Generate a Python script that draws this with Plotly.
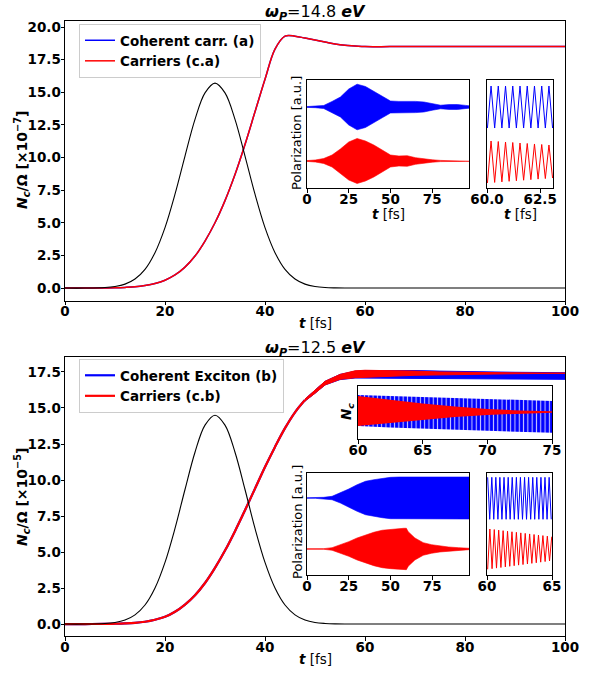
import plotly.graph_objects as go

# ---------------- Panel (a): omega_P = 14.8 eV ----------------
t_a = [0, 4, 8, 10, 12, 14, 16, 18, 20, 22, 24, 26, 28, 30, 32, 34, 36, 38, 40,
       42, 44, 46, 48, 50, 52, 54, 56, 58, 60, 65, 70, 80, 90, 100]
carriers_a = [0, 0, 0.01, 0.02, 0.05, 0.1, 0.2, 0.35, 0.6, 1.0, 1.6, 2.45, 3.6, 5.0,
              6.7, 8.7, 11.0, 13.5, 16.0, 18.3, 19.3, 19.3, 19.15, 19.0, 18.85,
              18.7, 18.6, 18.55, 18.5, 18.5, 18.5, 18.5, 18.5, 18.5]
coherent_a = carriers_a
pulse_a = [0, 0, 0.04, 0.12, 0.3, 0.69, 1.43, 2.71, 4.63, 7.19, 10.11, 12.92, 14.95,
           15.7, 14.95, 12.92, 10.11, 7.19, 4.63, 2.71, 1.43, 0.69, 0.3, 0.12, 0.04,
           0.01, 0, 0, 0, 0, 0, 0, 0, 0]

# inset: polarization envelopes (a.u.)
pol_t_a = [0, 5, 10, 15, 20, 25, 30, 35, 40, 45, 50, 55, 60, 65, 70, 75, 80, 85, 90, 95, 97]
pol_blue_amp_a = [0.009, 0.015, 0.033, 0.12, 0.217, 0.391, 0.496, 0.446, 0.337, 0.235, 0.13,
                  0.122, 0.126, 0.122, 0.109, 0.07, 0.039, 0.052, 0.054, 0.035, 0.026]
pol_red_amp_a = [0.009, 0.022, 0.054, 0.13, 0.261, 0.413, 0.489, 0.435, 0.348, 0.239, 0.13,
                 0.109, 0.115, 0.072, 0.043, 0.026, 0.013, 0.009, 0.009, 0.007, 0.007]
pol_blue_off_a = 0.587
pol_red_off_a = -0.587

# inset: zoom on oscillations 60-63 fs
osc_blue_t_a = [60.02, 60.19, 60.36, 60.53, 60.70, 60.87, 61.04, 61.21, 61.38, 61.55, 61.72,
                61.89, 62.06, 62.23, 62.40, 62.57, 62.74, 62.91, 63.08]
osc_blue_v_a = [0.13, 1.043, 0.13, 1.043, 0.13, 1.043, 0.13, 1.043, 0.13, 1.043, 0.13,
                1.043, 0.13, 1.043, 0.13, 1.043, 0.13, 1.043, 0.13]
osc_red_t_a = osc_blue_t_a
osc_red_v_a = [-1.065, -0.152, -1.053, -0.163, -1.041, -0.174, -1.029, -0.185, -1.017, -0.196,
               -1.005, -0.206, -0.993, -0.217, -0.981, -0.228, -0.969, -0.239, -0.957]

# ---------------- Panel (b): omega_P = 12.5 eV ----------------
t_b = [0, 4, 8, 10, 12, 14, 16, 18, 20, 22, 24, 26, 28, 30, 32, 34, 36, 38, 40,
       42, 44, 46, 48]
carriers_b = [0, 0, 0.01, 0.02, 0.04, 0.08, 0.16, 0.3, 0.5, 0.85, 1.35, 2.0, 2.85, 3.9,
              5.1, 6.45, 7.9, 9.4, 10.9, 12.3, 13.6, 14.7, 15.55]
pulse_t_b = [0, 4, 8, 10, 12, 14, 16, 18, 20, 22, 24, 26, 28, 30, 32, 34, 36, 38, 40,
             42, 44, 46, 48, 50, 52, 54, 56, 60, 70, 80, 90, 100]
pulse_b = [0, 0, 0.04, 0.11, 0.28, 0.64, 1.32, 2.5, 4.28, 6.64, 9.34, 11.93, 13.81, 14.5,
           13.81, 11.93, 9.34, 6.64, 4.28, 2.5, 1.32, 0.64, 0.28, 0.11, 0.04, 0.01, 0,
           0, 0, 0, 0, 0]
band_t_b = [48, 50, 52, 55, 58, 60, 65, 70, 75, 80, 90, 100]
coh_hi_b = [15.62, 16.25, 16.85, 17.33, 17.55, 17.6, 17.62, 17.6, 17.56, 17.52, 17.48, 17.45]
coh_lo_b = [15.48, 16.02, 16.6, 16.97, 17.08, 17.1, 17.1, 17.08, 17.05, 17.03, 17.01, 16.99]
car_hi_b = [15.62, 16.25, 16.85, 17.33, 17.58, 17.62, 17.6, 17.56, 17.5, 17.47, 17.44, 17.42]
car_lo_b = [15.48, 16.02, 16.6, 16.99, 17.1, 17.12, 17.2, 17.27, 17.32, 17.35, 17.38, 17.41]

# inset: N_c zoom 60-75 fs
nc_t_b = [60, 62.5, 65, 67.5, 70, 72.5, 75]
nc_coh_hi_b = [17.599, 17.584, 17.568, 17.553, 17.537, 17.521, 17.506]
nc_coh_lo_b = [17.115, 17.092, 17.068, 17.053, 17.037, 17.021, 17.006]
nc_car_hi_b = [17.584, 17.521, 17.467, 17.42, 17.381, 17.357, 17.345]
nc_car_lo_b = [17.115, 17.162, 17.209, 17.256, 17.287, 17.310, 17.323]

# inset: polarization envelopes (a.u.)
pol_blue_t_b = [0, 5, 10, 15, 20, 25, 30, 35, 40, 45, 50, 55, 60, 97]
pol_blue_amp_b = [0.007, 0.007, 0.015, 0.037, 0.109, 0.196, 0.289, 0.363, 0.398, 0.428,
                  0.45, 0.457, 0.457, 0.457]
pol_red_t_b = [0, 5, 10, 15, 20, 25, 30, 35, 40, 45, 50, 55, 58, 59.5, 60.6, 64.6, 69.6,
               74.6, 79.6, 84.7, 90.7, 97]
pol_red_amp_b = [0.004, 0.004, 0.007, 0.028, 0.087, 0.159, 0.239, 0.304, 0.363, 0.407,
                 0.428, 0.441, 0.45, 0.45, 0.376, 0.239, 0.137, 0.093, 0.065, 0.043,
                 0.028, 0.015]
pol_blue_off_b = 0.565
pol_red_off_b = -0.543

# inset: zoom on oscillations 60-65 fs
osc_blue_t_b = [60.05, 60.21, 60.37, 60.52, 60.68, 60.84, 60.99, 61.15, 61.31, 61.47, 61.63,
                61.78, 61.94, 62.10, 62.26, 62.41, 62.57, 62.73, 62.89, 63.04, 63.20, 63.36,
                63.52, 63.67, 63.83, 63.99, 64.15, 64.31, 64.46, 64.62, 64.78, 64.94]
osc_blue_v_b = [1.015, 0.102] * 16
osc_red_t_b = [60.05, 60.22, 60.39, 60.56, 60.73, 60.90, 61.07, 61.24, 61.41, 61.58, 61.75,
               61.92, 62.09, 62.26, 62.43, 62.60, 62.77, 62.94, 63.11, 63.28, 63.45, 63.62,
               63.79, 63.96, 64.13, 64.30, 64.47, 64.64, 64.81, 64.98]
osc_red_v_b = [-0.985, -0.109, -0.972, -0.121, -0.959, -0.133, -0.946, -0.145, -0.933, -0.157,
               -0.920, -0.169, -0.907, -0.181, -0.894, -0.193, -0.882, -0.204, -0.869, -0.216,
               -0.856, -0.228, -0.843, -0.240, -0.830, -0.252, -0.817, -0.264, -0.804, -0.276]

main_yticks_a = [0, 2.5, 5, 7.5, 10, 12.5, 15, 17.5, 20]
main_yticks_b = [0, 2.5, 5, 7.5, 10, 12.5, 15, 17.5]
main_xticks = [0, 20, 40, 60, 80, 100]

# ---------------- figure ----------------
W, H = 601, 675
FONT = "DejaVu Sans"
BLUE, RED, BLACK = "#0000ff", "#ff0000", "#000000"


def px_x(a, b):
    return [a / W, b / W]


def px_y(top, bottom):
    return [1 - bottom / H, 1 - top / H]


def band(t, hi, lo):
    return list(t) + list(t)[::-1], list(hi) + list(lo)[::-1]


fig = go.Figure()

# main (a)
fig.add_trace(go.Scatter(x=t_a, y=coherent_a, mode="lines", line=dict(color=BLUE, width=1.5),
                         name="Coherent carr. (a)", xaxis="x", yaxis="y", legend="legend",
                         line_shape="spline"))
fig.add_trace(go.Scatter(x=t_a, y=carriers_a, mode="lines", line=dict(color=RED, width=1.5),
                         name="Carriers (c.a)", xaxis="x", yaxis="y", legend="legend",
                         line_shape="spline"))
fig.add_trace(go.Scatter(x=t_a, y=pulse_a, mode="lines", line=dict(color=BLACK, width=1.1),
                         showlegend=False, xaxis="x", yaxis="y", line_shape="spline"))

# inset (a) polarization
bx, by = band(pol_t_a, [pol_blue_off_a + a for a in pol_blue_amp_a],
              [pol_blue_off_a - a for a in pol_blue_amp_a])
fig.add_trace(go.Scatter(x=bx, y=by, fill="toself", fillcolor=BLUE, line=dict(width=0.6, color=BLUE),
                         mode="lines", showlegend=False, xaxis="x3", yaxis="y3"))
rx, ry = band(pol_t_a, [pol_red_off_a + a for a in pol_red_amp_a],
              [pol_red_off_a - a for a in pol_red_amp_a])
fig.add_trace(go.Scatter(x=rx, y=ry, fill="toself", fillcolor=RED, line=dict(width=0.6, color=RED),
                         mode="lines", showlegend=False, xaxis="x3", yaxis="y3"))
fig.add_trace(go.Scatter(x=osc_blue_t_a, y=osc_blue_v_a, mode="lines", line=dict(color=BLUE, width=1),
                         showlegend=False, xaxis="x4", yaxis="y4"))
fig.add_trace(go.Scatter(x=osc_red_t_a, y=osc_red_v_a, mode="lines", line=dict(color=RED, width=1),
                         showlegend=False, xaxis="x4", yaxis="y4"))

# main (b)
bx, by = band(band_t_b, coh_hi_b, coh_lo_b)
fig.add_trace(go.Scatter(x=t_b, y=carriers_b, mode="lines", line=dict(color=BLUE, width=2.2),
                         name="Coherent Exciton (b)", xaxis="x2", yaxis="y2", legend="legend2",
                         line_shape="spline"))
fig.add_trace(go.Scatter(x=bx, y=by, fill="toself", fillcolor=BLUE, line=dict(width=1, color=BLUE),
                         mode="lines", showlegend=False, xaxis="x2", yaxis="y2"))
rx, ry = band(band_t_b, car_hi_b, car_lo_b)
fig.add_trace(go.Scatter(x=t_b, y=carriers_b, mode="lines", line=dict(color=RED, width=2.2),
                         name="Carriers (c.b)", xaxis="x2", yaxis="y2", legend="legend2",
                         line_shape="spline"))
fig.add_trace(go.Scatter(x=rx, y=ry, fill="toself", fillcolor=RED, line=dict(width=1, color=RED),
                         mode="lines", showlegend=False, xaxis="x2", yaxis="y2"))
fig.add_trace(go.Scatter(x=pulse_t_b, y=pulse_b, mode="lines", line=dict(color=BLACK, width=1.1),
                         showlegend=False, xaxis="x2", yaxis="y2", line_shape="spline"))

# inset Nc (b)
bx, by = band(nc_t_b, nc_coh_hi_b, nc_coh_lo_b)
fig.add_trace(go.Scatter(x=bx, y=by, fill="toself", fillcolor=BLUE, line=dict(width=0),
                         fillpattern=dict(shape="|", fgcolor="#c8c8ff", bgcolor=BLUE,
                                          size=4.3, solidity=0.25, fillmode="replace"),
                         mode="lines", showlegend=False, xaxis="x5", yaxis="y5"))
rx, ry = band(nc_t_b, nc_car_hi_b, nc_car_lo_b)
fig.add_trace(go.Scatter(x=rx, y=ry, fill="toself", fillcolor=RED, line=dict(width=0),
                         mode="lines", showlegend=False, xaxis="x5", yaxis="y5"))

# inset polarization (b)
bx, by = band(pol_blue_t_b, [pol_blue_off_b + a for a in pol_blue_amp_b],
              [pol_blue_off_b - a for a in pol_blue_amp_b])
fig.add_trace(go.Scatter(x=bx, y=by, fill="toself", fillcolor=BLUE, line=dict(width=0.6, color=BLUE),
                         mode="lines", showlegend=False, xaxis="x6", yaxis="y6"))
rx, ry = band(pol_red_t_b, [pol_red_off_b + a for a in pol_red_amp_b],
              [pol_red_off_b - a for a in pol_red_amp_b])
fig.add_trace(go.Scatter(x=rx, y=ry, fill="toself", fillcolor=RED, line=dict(width=0.6, color=RED),
                         mode="lines", showlegend=False, xaxis="x6", yaxis="y6"))
fig.add_trace(go.Scatter(x=osc_blue_t_b, y=osc_blue_v_b, mode="lines", line=dict(color=BLUE, width=1),
                         showlegend=False, xaxis="x7", yaxis="y7"))
fig.add_trace(go.Scatter(x=osc_red_t_b, y=osc_red_v_b, mode="lines", line=dict(color=RED, width=1),
                         showlegend=False, xaxis="x7", yaxis="y7"))

tickfont = dict(family=FONT, size=13.5, color="black", weight="bold")


def axis(domain, rng, anchor, **kw):
    d = dict(domain=domain, range=rng, anchor=anchor, showline=True, mirror=True,
             linecolor="black", linewidth=1, ticks="outside", ticklen=3.5, tickwidth=1,
             tickcolor="black", showgrid=False, zeroline=False, tickfont=tickfont,
             automargin=False)
    d.update(kw)
    return d


noy = dict(ticks="", showticklabels=False)
xo = dict(ticklabelstandoff=-5)
yo = dict(ticklabelstandoff=-3)

fig.update_layout(
    width=W, height=H, autosize=False,
    margin=dict(l=0, r=0, t=0, b=0, pad=0, autoexpand=False),
    paper_bgcolor="white", plot_bgcolor="white",
    font=dict(family=FONT, color="black"),
    xaxis=axis(px_x(65, 565), [0, 100], "y", tickvals=main_xticks, **xo),
    yaxis=axis(px_y(21, 300.7), [-0.97, 20.46], "x", tickvals=main_yticks_a, tickformat=".1f", **yo),
    xaxis2=axis(px_x(65, 565), [0, 100], "y2", tickvals=main_xticks, **xo),
    yaxis2=axis(px_y(357, 636), [-0.83, 18.54], "x2", tickvals=main_yticks_b, tickformat=".1f", **yo),
    xaxis3=axis(px_x(307, 469), [0, 97], "y3", tickvals=[0, 25, 50, 75], **xo),
    yaxis3=axis(px_y(80, 188), [-1.174, 1.174], "x3", **noy),
    xaxis4=axis(px_x(487, 553), [60, 63.1], "y4", tickvals=[60, 62.5], tickformat=".1f", **xo),
    yaxis4=axis(px_y(80, 188), [-1.174, 1.174], "x4", **noy),
    xaxis5=axis(px_x(358, 552), [60, 75], "y5", tickvals=[60, 65, 70, 75], **xo),
    yaxis5=axis(px_y(386, 439), [16.91, 17.74], "x5", **noy),
    xaxis6=axis(px_x(307, 469), [0, 97], "y6", tickvals=[0, 25, 50, 75], **xo),
    yaxis6=axis(px_y(473, 575), [-1.109, 1.109], "x6", **noy),
    xaxis7=axis(px_x(487, 552), [60, 65], "y7", tickvals=[60, 65], **xo),
    yaxis7=axis(px_y(473, 575), [-1.109, 1.109], "x7", **noy),
    legend=dict(x=79 / W, y=1 - 24 / H, xanchor="left", yanchor="top",
                bgcolor="rgba(255,255,255,0.8)", bordercolor="#cccccc", borderwidth=1,
                font=dict(family=FONT, size=13.5, weight="bold"), itemwidth=30,
                tracegroupgap=0),
    legend2=dict(x=79 / W, y=1 - 359 / H, xanchor="left", yanchor="top",
                 bgcolor="rgba(255,255,255,0.8)", bordercolor="#cccccc", borderwidth=1,
                 font=dict(family=FONT, size=13.5, weight="bold"), itemwidth=30,
                 tracegroupgap=0),
)


def ann(text, x, y, size=13, angle=0):
    fig.add_annotation(text=text, x=x / W, y=1 - y / H, xref="paper", yref="paper",
                       showarrow=False, textangle=angle, xanchor="center", yanchor="middle",
                       font=dict(family=FONT, size=size, color="black"))


ann("<b><i>ω<sub>P</sub></i></b>=14.8 <b><i>eV</i></b>", 315, 12, size=16)
ann("<b><i>ω<sub>P</sub></i></b>=12.5 <b><i>eV</i></b>", 315, 348, size=16)
ann("<b><i>t</i></b> [fs]", 315, 323, size=13.5)
ann("<b><i>t</i></b> [fs]", 315, 659, size=13.5)
ann("<b><i>N<sub>c</sub></i>/Ω [×10<sup>−7</sup>]</b>", 22, 160, size=14, angle=-90)
ann("<b><i>N<sub>c</sub></i>/Ω [×10<sup>−5</sup>]</b>", 22, 497, size=14, angle=-90)
ann("Polarization [a.u.]", 297, 133, size=13, angle=-90)
ann("Polarization [a.u.]", 297, 522, size=13, angle=-90)
ann("<b><i>t</i></b> [fs]", 388, 214, size=13.5)
ann("<b><i>t</i></b> [fs]", 520, 214, size=13.5)
ann("<b><i>N<sub>c</sub></i></b>", 347, 412, size=13.5, angle=-90)

fig.write_html("out.html", post_script="document.body.style.margin='0px';",
               config={"displayModeBar": False})
